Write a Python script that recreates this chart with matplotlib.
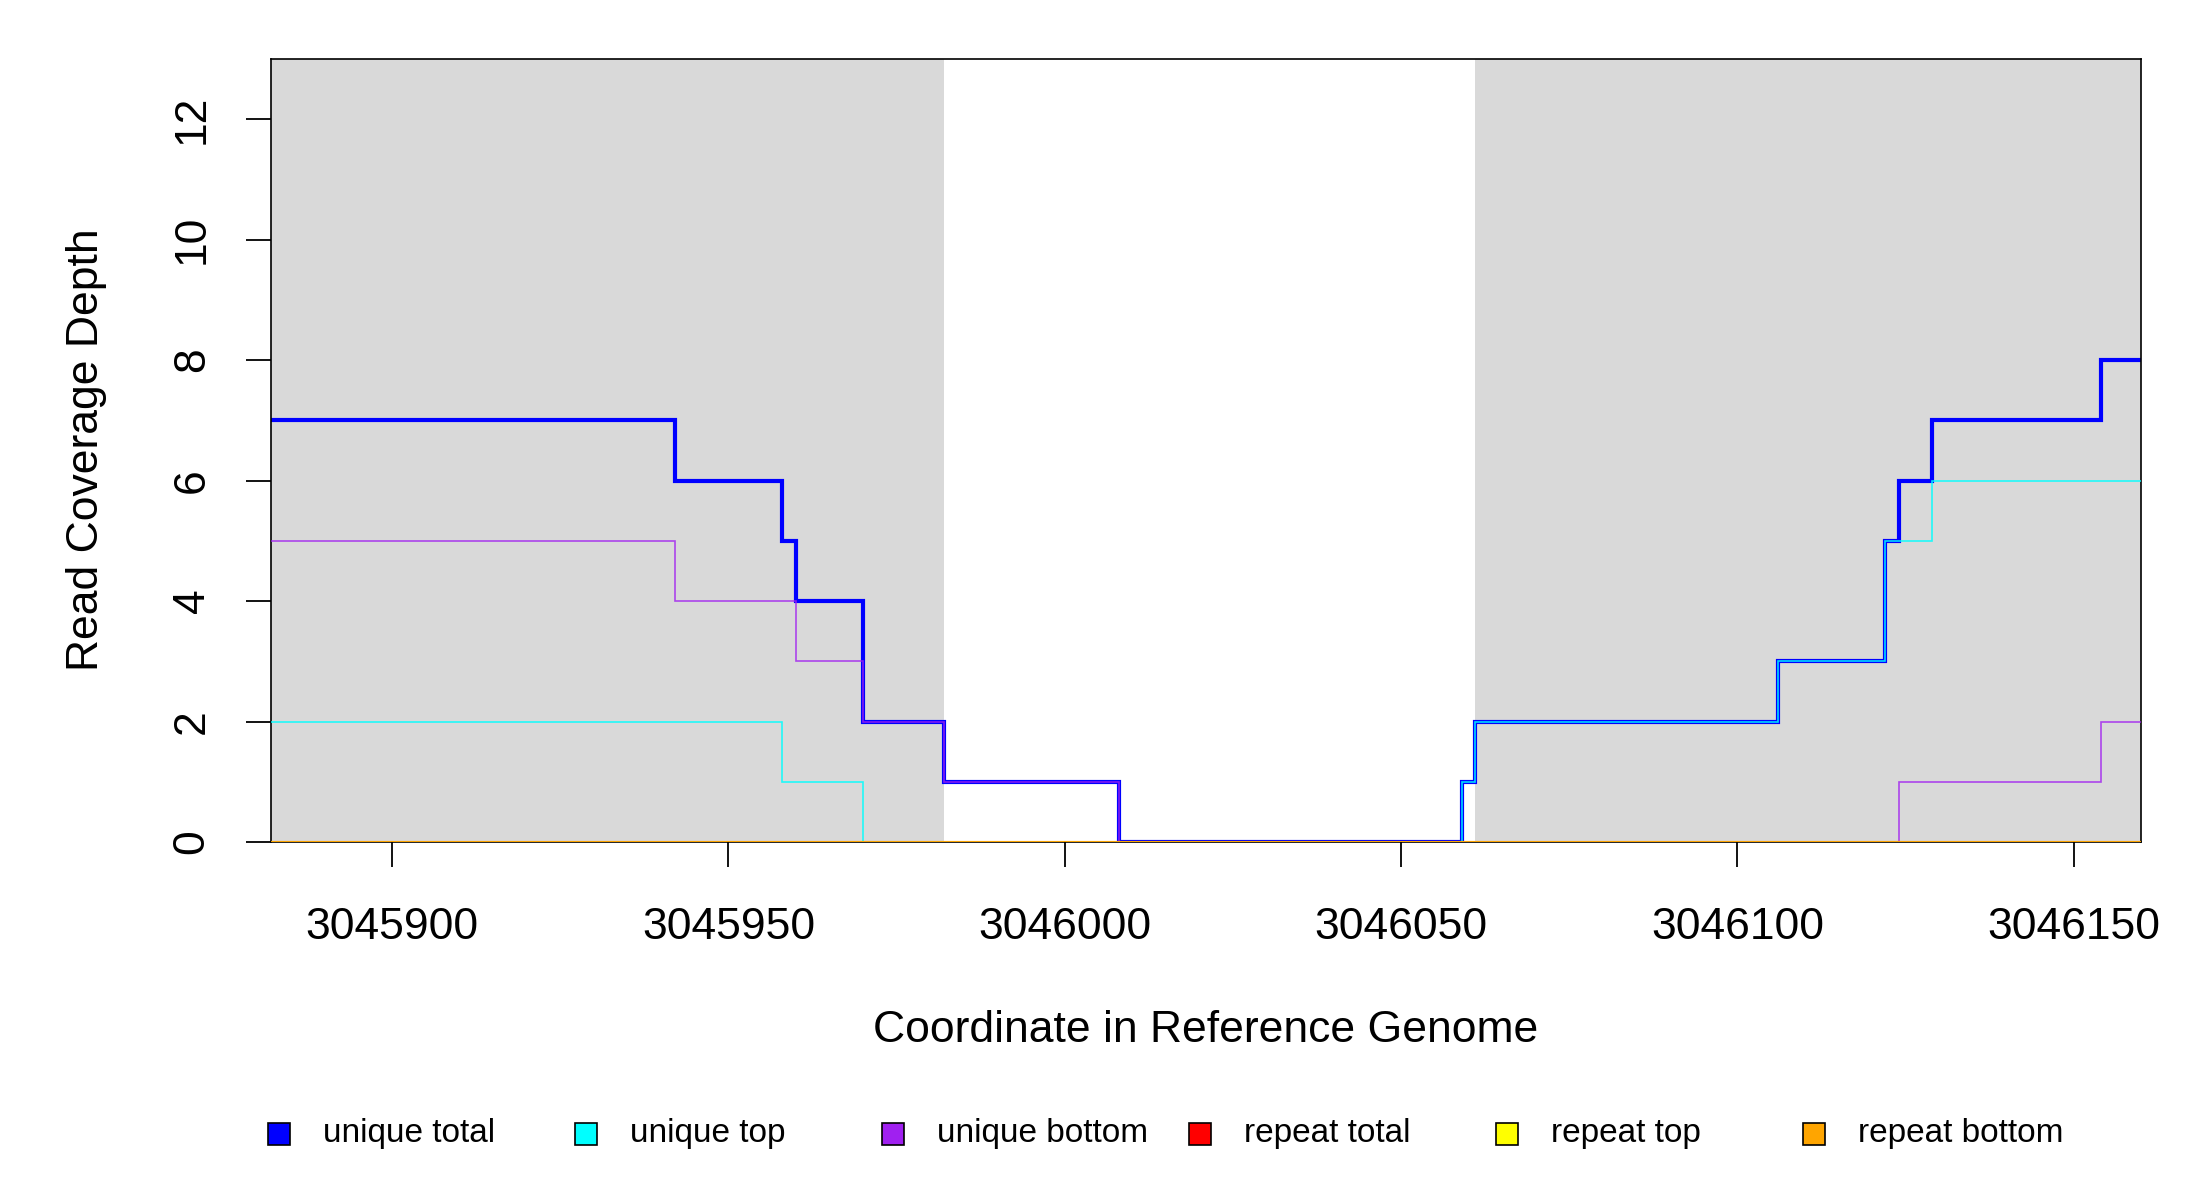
import matplotlib
matplotlib.use("Agg")
import matplotlib.pyplot as plt
from matplotlib.patches import Rectangle

plt.rcParams['font.family'] = ['Liberation Sans', 'DejaVu Sans']

# coverage steps (edges, values)
total_edges = [3045882, 3045942, 3045958, 3045960, 3045970, 3045982, 3046008,
               3046059, 3046061, 3046106, 3046122, 3046124, 3046129, 3046154, 3046160]
total_vals = [7, 6, 5, 4, 2, 1, 0, 1, 2, 3, 5, 6, 7, 8]

top_edges = [3045882, 3045958, 3045970, 3046059, 3046061, 3046106, 3046122, 3046129, 3046160]
top_vals = [2, 1, 0, 1, 2, 3, 5, 6]

bottom_edges = [3045882, 3045942, 3045960, 3045970, 3045982, 3046008, 3046124, 3046154, 3046160]
bottom_vals = [5, 4, 3, 2, 1, 0, 1, 2]

repeat_edges = [3045882, 3046160]
repeat_total = [0]
repeat_top = [0]
repeat_bottom = [0]

# shaded regions
shaded = [(3045882, 3045982), (3046061, 3046160)]

xticks = [3045900, 3045950, 3046000, 3046050, 3046100, 3046150]
yticks = [0, 2, 4, 6, 8, 10, 12]

legend_names = ["unique total", "unique top", "unique bottom",
                "repeat total", "repeat top", "repeat bottom"]
legend_cols = ["#0000FF", "#00FFFF", "#A020F0", "#FF0000", "#FFFF00", "#FFA500"]

W, H = 2200, 1200
fig = plt.figure(figsize=(22, 12), dpi=100)
ax = fig.add_axes([271 / W, 1 - 842 / H, (2141 - 271) / W, (842 - 59) / H])

for a, b in shaded:
    ax.axvspan(a, b, color="#D9D9D9", lw=0, zorder=0)

ax.stairs(total_vals, total_edges, color="#0000FF", lw=3, baseline=None, zorder=2)
ax.stairs(top_vals, top_edges, color="#00FFFF", lw=1.2, alpha=0.85, baseline=None, zorder=3)
ax.stairs(bottom_vals, bottom_edges, color="#A020F0", lw=1.2, alpha=0.8, baseline=None, zorder=4)
ax.stairs(repeat_total, repeat_edges, color="#FF0000", lw=1.5, alpha=0.6, baseline=None, zorder=5)
ax.stairs(repeat_top, repeat_edges, color="#FFFF00", lw=1.5, alpha=0.6, baseline=None, zorder=6)
ax.stairs(repeat_bottom, repeat_edges, color="#FFA500", lw=2.2, alpha=0.9, baseline=None, zorder=7)

ax.set_xlim(3045882, 3046160)
ax.set_ylim(0, 13)
ax.set_xticks(xticks)
ax.set_xticklabels([str(v) for v in xticks])
ax.set_yticks(yticks)
ax.set_yticklabels([str(v) for v in yticks], rotation=90, va="center")
ax.tick_params(axis="both", length=18, width=1.3, labelsize=32, color="black")
ax.tick_params(axis="x", pad=29)
ax.tick_params(axis="y", pad=24)
for s in ax.spines.values():
    s.set_linewidth(1.2)
    s.set_color("black")

fig.text(1206 / W, 1 - 1031 / H, "Coordinate in Reference Genome",
         ha="center", va="center", fontsize=32)
fig.text(87 / W, 1 - 450 / H, "Read Coverage Depth",
         ha="center", va="center", fontsize=32, rotation=90)

# legend row under the plot
s = 1.403
for i, (name, col) in enumerate(zip(legend_names, legend_cols)):
    cx = (199 + 218.8 * i) * s
    cy = 808 * s
    sz = 22
    fig.add_artist(Rectangle(((cx - sz / 2) / W, 1 - (cy + sz / 2) / H), sz / W, sz / H,
                             transform=fig.transFigure, facecolor=col,
                             edgecolor="black", lw=1.2))
    fig.text((230 + 218.8 * i) * s / W, 1 - cy / H, name,
             ha="left", va="center", fontsize=24)

fig.savefig("out.png", dpi=100, facecolor="white")
